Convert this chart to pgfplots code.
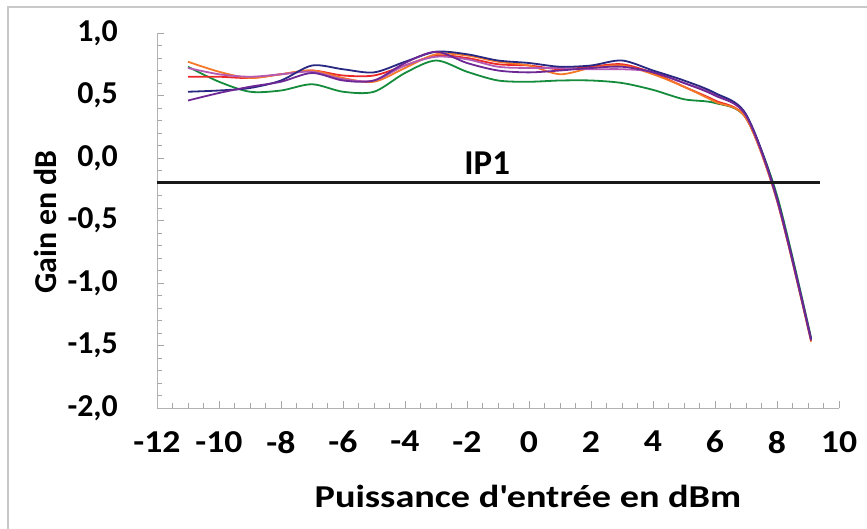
\documentclass[border=0pt]{standalone}
\usepackage{fontspec}
\setmainfont{Carlito}[FakeStretch=1.2]
\newfontfamily\plainfont{Carlito}
\newfontfamily\xfont{Carlito}[FakeStretch=1.12]
\usepackage{pgfplots}
\pgfplotsset{compat=1.18}
\definecolor{cnavy}{RGB}{40,40,130}
\definecolor{corange}{RGB}{245,120,40}
\definecolor{cred}{RGB}{235,40,40}
\definecolor{cpink}{RGB}{180,90,180}
\definecolor{cpurple}{RGB}{110,40,150}
\definecolor{cgreen}{RGB}{20,140,60}
\definecolor{cframe}{RGB}{200,200,200}
\begin{document}
\begin{tikzpicture}[x=1bp,y=1bp]
\useasboundingbox (0bp,0bp) rectangle (867bp,529bp);
\draw[cframe, line width=1.5bp] (8bp,0bp) -- (8bp,522bp) -- (867bp,522bp);
\begin{axis}[
  at={(157bp,121bp)}, anchor=south west, scale only axis,
  width=682bp, height=375bp,
  xmin=-12, xmax=10, ymin=-2, ymax=1,
  axis x line=bottom, axis y line=left,
  axis line style={-, draw=black!30, line width=1bp},
  xtick={-12,-10,...,10}, ytick={-2,-1.5,...,1},
  minor x tick num=3, minor y tick num=4,
  tick align=inside, major tick length=7bp, minor tick length=5bp,
  every tick/.style={black!35, line width=0.8bp},
  /pgf/number format/assume math mode=true,
  xticklabel style={font=\xfont\bfseries\fontsize{32}{36}\selectfont, inner sep=0pt, anchor=north, yshift=-23bp},
  yticklabel style={font=\plainfont\bfseries\fontsize{32}{36}\selectfont, inner sep=0pt, anchor=east, xshift=-39bp,
    /pgf/number format/.cd, fixed, fixed zerofill, precision=1, use comma},
  xlabel={Puissance d\textquotesingle entrée en dBm},
  ylabel={Gain en dB},
  xlabel style={font=\bfseries\fontsize{32}{36}\selectfont, at={(axis description cs:0.544,-0.237)}, anchor=center},
  ylabel style={font=\plainfont\bfseries\fontsize{32}{36}\selectfont, at={(axis description cs:-0.164,0.496)}, anchor=center},
  clip=false,
  every axis plot/.append style={line width=1.8bp, smooth, tension=0.5},
]
\addplot[cgreen] coordinates {(-11,0.73) (-10,0.61) (-9,0.53) (-8,0.54) (-7,0.59) (-6,0.53) (-5,0.53) (-4,0.68) (-3,0.78) (-2,0.69) (-1,0.62) (0,0.61) (1,0.62) (2,0.62) (3,0.60) (4,0.545) (5,0.47) (6,0.44) (7,0.32) (8,-0.30) (9.1,-1.44)};
\addplot[cred] coordinates {(-11,0.65) (-10,0.65) (-9,0.64) (-8,0.67) (-7,0.70) (-6,0.66) (-5,0.66) (-4,0.74) (-3,0.82) (-2,0.80) (-1,0.75) (0,0.74) (1,0.71) (2,0.73) (3,0.75) (4,0.68) (5,0.57) (6,0.46) (7,0.32) (8,-0.34) (9.1,-1.46)};
\addplot[corange] coordinates {(-11,0.77) (-10,0.69) (-9,0.64) (-8,0.67) (-7,0.70) (-6,0.64) (-5,0.61) (-4,0.72) (-3,0.83) (-2,0.82) (-1,0.77) (0,0.74) (1,0.67) (2,0.72) (3,0.74) (4,0.67) (5,0.57) (6,0.45) (7,0.32) (8,-0.34) (9.1,-1.47)};
\addplot[cpink] coordinates {(-11,0.72) (-10,0.67) (-9,0.65) (-8,0.67) (-7,0.69) (-6,0.63) (-5,0.62) (-4,0.74) (-3,0.81) (-2,0.79) (-1,0.73) (0,0.72) (1,0.72) (2,0.71) (3,0.71) (4,0.69) (5,0.60) (6,0.51) (7,0.34) (8,-0.33) (9.1,-1.45)};
\addplot[cnavy] coordinates {(-11,0.53) (-10,0.54) (-9,0.56) (-8,0.62) (-7,0.74) (-6,0.71) (-5,0.685) (-4,0.77) (-3,0.85) (-2,0.83) (-1,0.78) (0,0.76) (1,0.73) (2,0.74) (3,0.78) (4,0.70) (5,0.62) (6,0.52) (7,0.35) (8,-0.32) (9.1,-1.45)};
\addplot[cpurple] coordinates {(-11,0.46) (-10,0.52) (-9,0.57) (-8,0.61) (-7,0.68) (-6,0.62) (-5,0.62) (-4,0.76) (-3,0.85) (-2,0.76) (-1,0.70) (0,0.685) (1,0.70) (2,0.72) (3,0.73) (4,0.685) (5,0.60) (6,0.50) (7,0.34) (8,-0.33) (9.1,-1.46)};
\addplot[black!90, line width=3bp, sharp plot] coordinates {(-12,-0.2) (9.4,-0.2)};
\node[font=\plainfont\bfseries\fontsize{35}{40}\selectfont, inner sep=0pt] at (axis cs:-1.35,-0.04) {IP1};
\end{axis}
\end{tikzpicture}
\end{document}
